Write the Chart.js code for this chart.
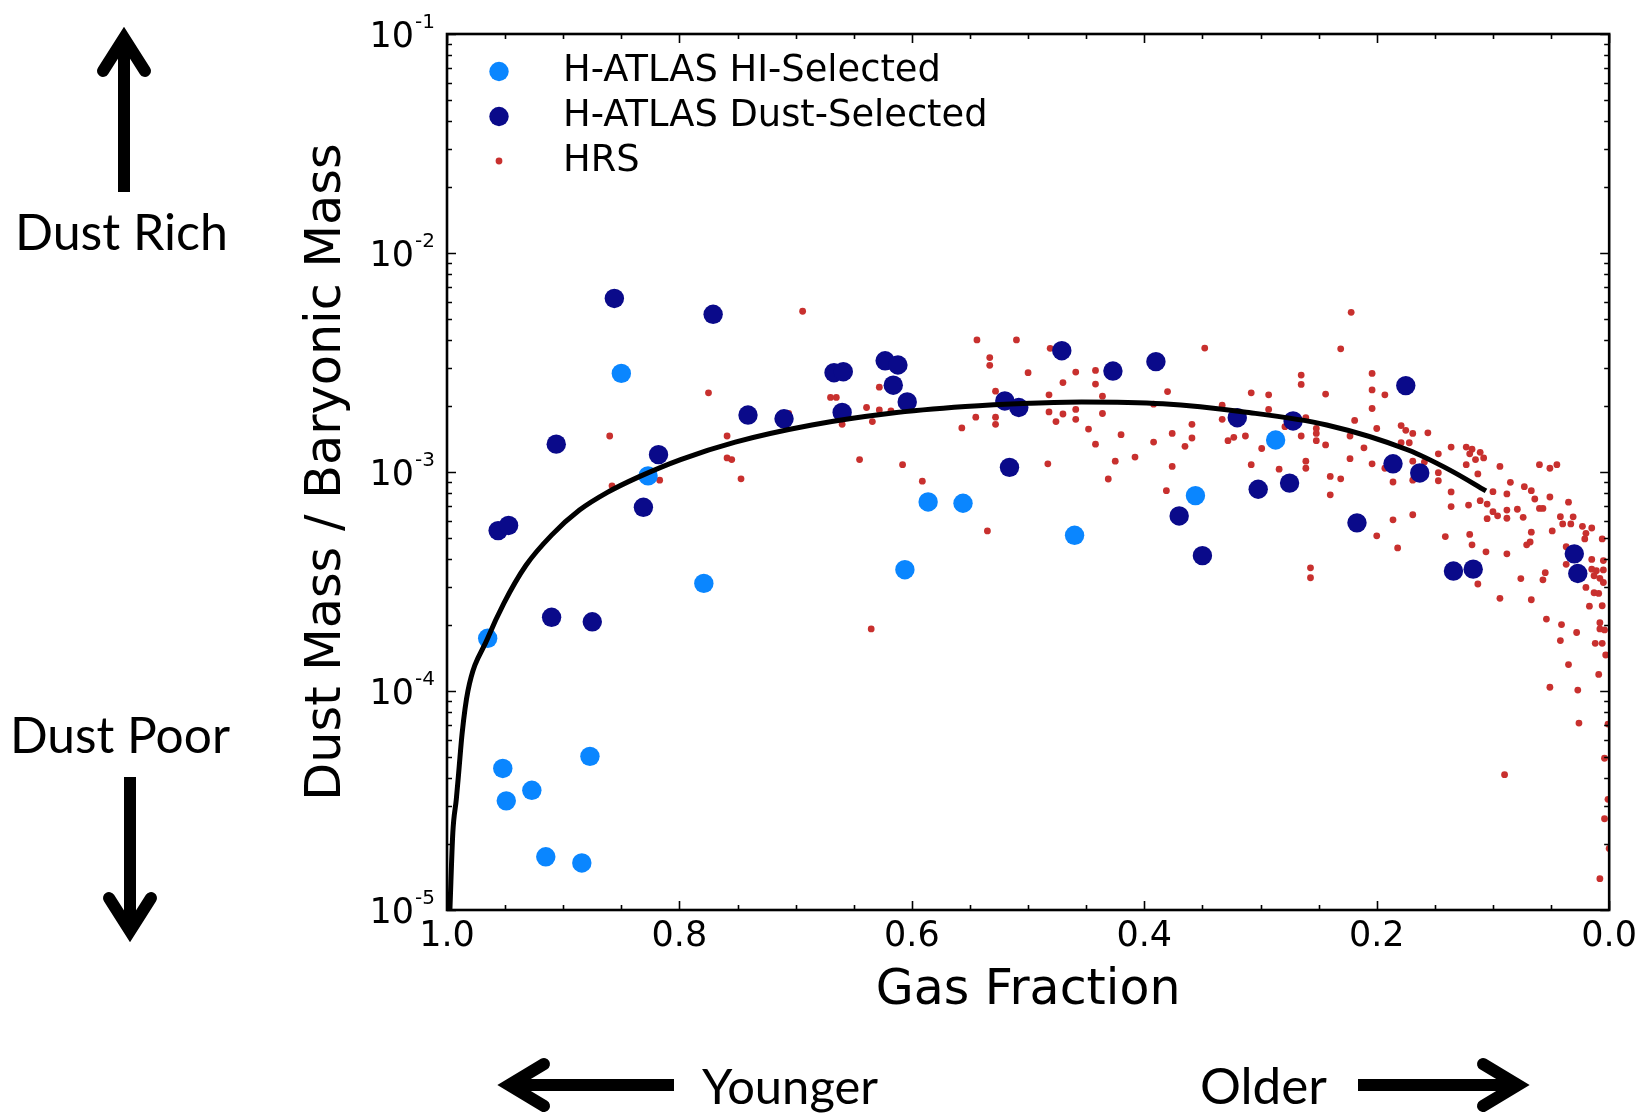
<!DOCTYPE html>
<html>
<head>
<meta charset="utf-8">
<script src="https://cdn.jsdelivr.net/npm/chart.js@4.4.0/dist/chart.umd.min.js"></script>
<style>
html,body{margin:0;padding:0;background:#ffffff;}
canvas{display:block;}
</style>
</head>
<body>
<canvas id="chart" width="1643" height="1116"></canvas>
<script>
// ---------------- DATA ----------------
const seriesLabels = ['H-ATLAS HI-Selected', 'H-ATLAS Dust-Selected', 'HRS'];
const xTitle = 'Gas Fraction';
const yTitle = 'Dust Mass / Baryonic Mass';

const xTickValues = [1.0, 0.8, 0.6, 0.4, 0.2, 0.0];
const xTickLabels = ['1.0', '0.8', '0.6', '0.4', '0.2', '0.0'];
const yTickValues = [1e-5, 1e-4, 1e-3, 1e-2, 1e-1];
const yTickBase = '10';
const yTickExponents = ['-5', '-4', '-3', '-2', '-1'];

const sideNotes = ['Dust Rich', 'Dust Poor'];
const bottomNotes = ['Younger', 'Older'];

// H-ATLAS HI-selected
const hiGas  = [0.850, 0.827, 0.586, 0.556, 0.779, 0.606, 0.965, 0.952, 0.949, 0.927, 0.877, 0.915, 0.884, 0.287, 0.356, 0.460];
const hiDust = [2.82e-3, 9.6e-4, 7.3e-4, 7.2e-4, 3.1e-4, 3.58e-4, 1.74e-4, 4.43e-5, 3.15e-5, 3.52e-5, 5.03e-5, 1.75e-5, 1.64e-5, 1.40e-3, 7.8e-4, 5.14e-4];

// H-ATLAS dust-selected
const dsGas  = [0.856, 0.771, 0.906, 0.818, 0.831, 0.956, 0.947, 0.910, 0.875, 0.741, 0.710, 0.667, 0.659, 0.623, 0.612, 0.616, 0.604, 0.660, 0.520, 0.508, 0.516,
                0.471, 0.427, 0.390, 0.320, 0.272, 0.175, 0.186, 0.163, 0.302, 0.275, 0.370, 0.350, 0.217, 0.134, 0.117, 0.030, 0.027];
const dsDust = [6.2e-3, 5.25e-3, 1.34e-3, 1.20e-3, 6.9e-4, 5.4e-4, 5.7e-4, 2.17e-4, 2.07e-4, 1.82e-3, 1.75e-3, 2.84e-3, 2.87e-3, 3.22e-3, 3.08e-3, 2.49e-3, 2.09e-3, 1.87e-3, 2.11e-3, 1.97e-3, 1.05e-3,
                3.58e-3, 2.89e-3, 3.19e-3, 1.77e-3, 1.71e-3, 2.48e-3, 1.09e-3, 9.9e-4, 8.34e-4, 8.9e-4, 6.3e-4, 4.15e-4, 5.86e-4, 3.53e-4, 3.6e-4, 4.23e-4, 3.44e-4];

// HRS
const hrsGas = [
  0.694, 0.775, 0.860, 0.858, 0.817, 0.759, 0.759, 0.755, 0.747, 0.706, 0.670, 0.665, 0.660, 0.645, 0.639, 0.634, 0.628, 0.628, 0.618, 0.608,
  0.591, 0.635, 0.544, 0.533, 0.533, 0.528, 0.545, 0.528, 0.528, 0.557, 0.535, 0.510, 0.500,
  0.481, 0.470, 0.482, 0.482, 0.470, 0.476, 0.459, 0.459, 0.459, 0.442, 0.442, 0.436, 0.436, 0.448, 0.442, 0.420, 0.483, 0.425, 0.431, 0.408,
  0.392, 0.392, 0.380, 0.376, 0.376, 0.381, 0.365, 0.359, 0.359, 0.348, 0.333, 0.333, 0.328, 0.323, 0.313, 0.308, 0.308, 0.299, 0.293, 0.293,
  0.284, 0.279, 0.265, 0.265, 0.261, 0.265, 0.261, 0.261, 0.252, 0.252, 0.252, 0.244, 0.244, 0.257, 0.257, 0.240, 0.240, 0.231, 0.231, 0.222,
  0.223, 0.219, 0.223, 0.211, 0.204, 0.204, 0.204, 0.193, 0.200, 0.204, 0.193, 0.186, 0.186, 0.200, 0.182, 0.179, 0.175, 0.179, 0.172, 0.169,
  0.169, 0.169, 0.169, 0.156, 0.159, 0.147, 0.147, 0.147, 0.141, 0.136, 0.136, 0.136, 0.123, 0.118, 0.120, 0.115, 0.123, 0.111, 0.108, 0.113,
  0.121, 0.120, 0.118, 0.113, 0.111, 0.106, 0.105, 0.105, 0.100, 0.100, 0.096, 0.094, 0.094, 0.088, 0.088, 0.088, 0.088, 0.085, 0.079, 0.076,
  0.074, 0.073, 0.071, 0.068, 0.067, 0.067, 0.067, 0.064, 0.060, 0.057, 0.060, 0.051, 0.045, 0.051, 0.055, 0.057, 0.054, 0.049, 0.042, 0.040,
  0.035, 0.031, 0.033, 0.037, 0.037, 0.041, 0.042, 0.028, 0.023, 0.015, 0.020, 0.021, 0.006, 0.015, 0.005, 0.015, 0.011, 0.005, 0.013, 0.008,
  0.005, 0.020, 0.013, 0.009, 0.017, 0.006, 0.008, 0.008, 0.004, 0.012, 0.006,
  0.003, 0.035, 0.009, 0.051, 0.027, 0.026, 0.001, 0.004, 0.090, 0.001, 0.004, 0.000, 0.008
];
const hrsDust = [
  5.42e-3, 2.30e-3, 1.46e-3, 8.65e-4, 9.18e-4, 1.46e-3, 1.16e-3, 1.14e-3, 9.31e-4, 1.85e-3, 2.19e-3, 2.19e-3, 1.65e-3, 1.14e-3, 1.97e-3, 1.70e-3, 2.44e-3, 1.92e-3, 1.90e-3, 1.08e-3,
  9.08e-4, 1.92e-4, 4.01e-3, 3.33e-3, 3.07e-3, 2.34e-3, 1.78e-3, 1.78e-3, 1.65e-3, 1.59e-3, 5.38e-4, 4.01e-3, 2.84e-3,
  3.67e-3, 2.56e-3, 2.25e-3, 1.88e-3, 1.84e-3, 1.70e-3, 2.86e-3, 1.93e-3, 1.74e-3, 2.91e-3, 2.52e-3, 2.22e-3, 1.85e-3, 1.57e-3, 1.34e-3, 1.48e-3, 1.09e-3, 1.12e-3, 9.29e-4, 1.17e-3,
  2.04e-3, 1.37e-3, 2.33e-3, 1.50e-3, 1.06e-3, 8.22e-4, 1.31e-3, 1.65e-3, 1.43e-3, 3.68e-3, 2.02e-3, 1.74e-3, 1.39e-3, 1.44e-3, 1.46e-3, 2.30e-3, 1.08e-3, 1.28e-3, 2.25e-3, 1.93e-3,
  1.03e-3, 1.61e-3, 2.77e-3, 2.51e-3, 1.77e-3, 1.46e-3, 1.12e-3, 1.04e-3, 1.58e-3, 1.50e-3, 1.39e-3, 2.27e-3, 1.33e-3, 3.65e-4, 3.29e-4, 9.55e-4, 7.87e-4, 3.65e-3, 9.31e-4, 5.36e-3,
  1.46e-3, 1.72e-3, 1.15e-3, 1.29e-3, 2.82e-3, 2.37e-3, 1.95e-3, 2.25e-3, 1.58e-3, 1.09e-3, 1.04e-3, 9.00e-4, 6.05e-4, 5.11e-4, 4.50e-4, 1.63e-3, 1.55e-3, 1.36e-3, 1.36e-3, 1.50e-3,
  1.12e-3, 9.18e-4, 6.38e-4, 1.51e-3, 1.11e-3, 1.21e-3, 9.93e-4, 9.12e-4, 5.07e-4, 1.30e-3, 8.11e-4, 6.95e-4, 1.30e-3, 1.27e-3, 1.21e-3, 1.14e-3, 1.08e-3, 1.23e-3, 1.16e-3, 9.80e-4,
  7.06e-4, 5.19e-4, 4.65e-4, 3.08e-4, 7.40e-4, 4.32e-4, 7.14e-4, 6.12e-4, 8.13e-4, 6.59e-4, 6.31e-4, 1.06e-3, 2.65e-4, 7.94e-4, 6.70e-4, 6.15e-4, 4.23e-4, 8.97e-4, 6.76e-4, 3.26e-4,
  6.21e-4, 8.57e-4, 4.65e-4, 4.79e-4, 8.22e-4, 5.31e-4, 2.61e-4, 7.53e-4, 6.82e-4, 6.82e-4, 1.08e-3, 1.04e-3, 1.08e-3, 7.69e-4, 3.47e-4, 3.22e-4, 2.13e-4, 5.38e-4, 6.25e-4, 5.79e-4,
  7.28e-4, 6.24e-4, 5.79e-4, 4.56e-4, 3.79e-4, 2.01e-4, 1.70e-4, 1.85e-4, 5.65e-4, 5.55e-4, 5.25e-4, 4.95e-4, 4.95e-4, 3.99e-4, 3.94e-4, 3.60e-4, 3.54e-4, 3.57e-4, 3.36e-4, 3.27e-4,
  3.13e-4, 2.97e-4, 2.81e-4, 2.79e-4, 2.44e-4, 2.45e-4, 2.05e-4, 1.92e-4, 1.90e-4, 1.65e-4, 1.65e-4,
  1.46e-4, 1.32e-4, 1.19e-4, 1.04e-4, 1.01e-4, 7.14e-5, 7.06e-5, 4.93e-5, 4.15e-5, 3.20e-5, 2.61e-5, 1.91e-5, 1.39e-5
];

// model curve
const modelGas  = [0.9975, 0.995, 0.992, 0.990, 0.987, 0.982, 0.965, 0.951, 0.932, 0.910, 0.886, 0.862, 0.835, 0.799, 0.752, 0.686, 0.620, 0.554, 0.499, 0.454, 0.384, 0.314, 0.243, 0.173, 0.137, 0.106];
const modelDust = [1.0e-5, 2.25e-5, 3.2e-5, 4.2e-5, 6.4e-5, 1.0e-4, 1.74e-4, 2.52e-4, 3.75e-4, 5.15e-4, 6.7e-4, 8.07e-4, 9.5e-4, 1.14e-3, 1.37e-3, 1.64e-3, 1.85e-3, 1.99e-3, 2.06e-3, 2.09e-3, 2.05e-3, 1.88e-3, 1.64e-3, 1.26e-3, 1.02e-3, 8.2e-4];

// ---------------- STYLE ----------------
const COLORS = { hi: '#0A86FF', ds: '#0A0A8A', hrs: '#C8302E', line: '#000000' };
const FONT = 'DejaVu Sans';
const NOTE_FONT = 'Lato';

function pts(xs, ys) { return xs.map((x, i) => ({ x: x, y: ys[i] })); }

// ---------------- DECORATION PLUGIN ----------------
function drawArrow(ctx, tail, tip, back, side) {
  const dx = tip[0] - tail[0], dy = tip[1] - tail[1];
  const len = Math.hypot(dx, dy);
  const ux = dx / len, uy = dy / len;
  const px = -uy, py = ux;
  ctx.save();
  ctx.strokeStyle = '#000';
  ctx.lineWidth = 12;
  ctx.lineCap = 'butt';
  ctx.beginPath();
  ctx.moveTo(tail[0], tail[1]);
  ctx.lineTo(tip[0] - ux * 6, tip[1] - uy * 6);
  ctx.stroke();
  ctx.lineCap = 'round';
  ctx.lineJoin = 'miter';
  ctx.miterLimit = 10;
  ctx.beginPath();
  ctx.moveTo(tip[0] - ux * back + px * side, tip[1] - uy * back + py * side);
  ctx.lineTo(tip[0], tip[1]);
  ctx.lineTo(tip[0] - ux * back - px * side, tip[1] - uy * back - py * side);
  ctx.stroke();
  ctx.restore();
}

function fitText(ctx, text, family, left, right, baseline) {
  ctx.font = '50px "' + family + '"';
  const w = ctx.measureText(text).width;
  const size = 50 * (right - left) / w;
  ctx.font = size.toFixed(2) + 'px "' + family + '"';
  ctx.textAlign = 'left';
  ctx.textBaseline = 'alphabetic';
  ctx.fillText(text, left, baseline);
}

const decor = {
  id: 'decor',
  afterDraw(chart) {
    const ctx = chart.ctx;
    const a = chart.chartArea;
    const xs = chart.scales.x, ys = chart.scales.y;
    ctx.save();
    ctx.strokeStyle = '#000';
    ctx.fillStyle = '#000';

    // inward ticks on all four sides
    ctx.lineWidth = 1.6;
    ctx.beginPath();
    for (let k = 0; k <= 20; k++) {
      const v = k * 0.05;
      const px = Math.round(xs.getPixelForValue(v)) + 0.5;
      const L = (k % 4 === 0) ? 9 : 5;
      ctx.moveTo(px, a.bottom); ctx.lineTo(px, a.bottom - L);
      ctx.moveTo(px, a.top); ctx.lineTo(px, a.top + L);
    }
    for (let d = -5; d <= -1; d++) {
      for (let m = 1; m <= 9; m++) {
        const v = m * Math.pow(10, d);
        if (v > 0.1000001) continue;
        const py = Math.round(ys.getPixelForValue(v)) + 0.5;
        const L = (m === 1) ? 9 : 5;
        ctx.moveTo(a.left, py); ctx.lineTo(a.left + L, py);
        ctx.moveTo(a.right, py); ctx.lineTo(a.right - L, py);
      }
    }
    ctx.stroke();

    // frame
    ctx.lineWidth = 2.6;
    ctx.strokeRect(a.left, a.top, a.right - a.left, a.bottom - a.top);

    // y tick labels with superscripts
    yTickValues.forEach((v, i) => {
      const py = ys.getPixelForValue(v);
      ctx.textAlign = 'right';
      ctx.textBaseline = 'alphabetic';
      ctx.font = '20px "' + FONT + '"';
      const supRight = a.left - 12;
      ctx.fillText(yTickExponents[i], supRight, py - 6);
      const sw = ctx.measureText(yTickExponents[i]).width;
      ctx.font = '35px "' + FONT + '"';
      ctx.fillText(yTickBase, supRight - sw - 1, py + 13);
    });

    // legend (inside the axes, top-left)
    const legendItems = [
      { ds: chart.data.datasets[1], r: 9.7 },
      { ds: chart.data.datasets[2], r: 9.7 },
      { ds: chart.data.datasets[3], r: 3.4 }
    ];
    const rows = [71.5, 116.5, 161];
    ctx.font = '36.8px "' + FONT + '"';
    ctx.textAlign = 'left';
    ctx.textBaseline = 'alphabetic';
    legendItems.forEach((it, i) => {
      ctx.fillStyle = it.ds.backgroundColor;
      ctx.beginPath();
      ctx.arc(499, rows[i], it.r, 0, Math.PI * 2);
      ctx.fill();
      ctx.fillStyle = '#000';
      ctx.fillText(it.ds.label, 563, rows[i] + 9.5);
    });

    // side notes and arrows
    ctx.fillStyle = '#000';
    fitText(ctx, sideNotes[0], NOTE_FONT, 15, 228, 250);
    fitText(ctx, sideNotes[1], NOTE_FONT, 10, 230, 753);
    fitText(ctx, bottomNotes[0], NOTE_FONT, 702, 878, 1104);
    fitText(ctx, bottomNotes[1], NOTE_FONT, 1200, 1327, 1104);

    drawArrow(ctx, [124, 192], [124, 38], 33, 21);
    drawArrow(ctx, [130, 777], [130, 931], 33, 21);
    drawArrow(ctx, [674, 1085], [509, 1085], 35, 21);
    drawArrow(ctx, [1358, 1085], [1518, 1085], 35, 21);

    ctx.restore();
  }
};

Chart.defaults.color = '#000';
Chart.defaults.font.family = FONT;

const chart = new Chart(document.getElementById('chart').getContext('2d'), {
  type: 'scatter',
  data: {
    datasets: [
      {
        label: 'model',
        data: pts(modelGas, modelDust),
        showLine: true,
        borderColor: COLORS.line,
        borderWidth: 5,
        pointRadius: 0,
        pointHoverRadius: 0,
        cubicInterpolationMode: 'monotone',
        fill: false,
        order: 0,
        clip: 0
      },
      {
        label: seriesLabels[0],
        data: pts(hiGas, hiDust),
        backgroundColor: COLORS.hi,
        borderColor: COLORS.hi,
        borderWidth: 0,
        pointRadius: 9.7,
        order: 1,
        clip: 0
      },
      {
        label: seriesLabels[1],
        data: pts(dsGas, dsDust),
        backgroundColor: COLORS.ds,
        borderColor: COLORS.ds,
        borderWidth: 0,
        pointRadius: 9.7,
        order: 2,
        clip: 0
      },
      {
        label: seriesLabels[2],
        data: pts(hrsGas, hrsDust),
        backgroundColor: COLORS.hrs,
        borderColor: COLORS.hrs,
        borderWidth: 0,
        pointRadius: 3.4,
        order: 3,
        clip: 0
      }
    ]
  },
  options: {
    responsive: false,
    animation: false,
    devicePixelRatio: 1,
    events: [],
    layout: { padding: { left: 0, top: 34, right: 32, bottom: 0 } },
    plugins: { legend: { display: false }, tooltip: { enabled: false } },
    scales: {
      x: {
        type: 'linear',
        min: 0,
        max: 1,
        reverse: true,
        position: 'bottom',
        afterBuildTicks: (s) => { s.ticks = xTickValues.map(v => ({ value: v })); },
        afterFit: (s) => { s.height = 206; },
        ticks: {
          callback: (v) => { const i = xTickValues.findIndex(t => Math.abs(t - v) < 1e-9); return i >= 0 ? xTickLabels[i] : ''; },
          font: { family: FONT, size: 35 },
          color: '#000',
          padding: 6,
          maxRotation: 0,
          autoSkip: false
        },
        grid: { display: false, drawTicks: false },
        border: { display: false },
        title: { display: true, text: xTitle, color: '#000', font: { family: FONT, size: 49 }, padding: { top: 0, bottom: 95 } }
      },
      y: {
        type: 'logarithmic',
        min: 1e-5,
        max: 1e-1,
        position: 'left',
        afterBuildTicks: (s) => { s.ticks = yTickValues.map(v => ({ value: v })); },
        afterFit: (s) => { s.width = 447; },
        ticks: { display: false },
        grid: { display: false, drawTicks: false },
        border: { display: false },
        title: { display: true, text: yTitle, color: '#000', font: { family: FONT, size: 49.3 }, padding: { top: 298, bottom: 0 } }
      }
    }
  },
  plugins: [decor]
});
</script>
</body>
</html>
